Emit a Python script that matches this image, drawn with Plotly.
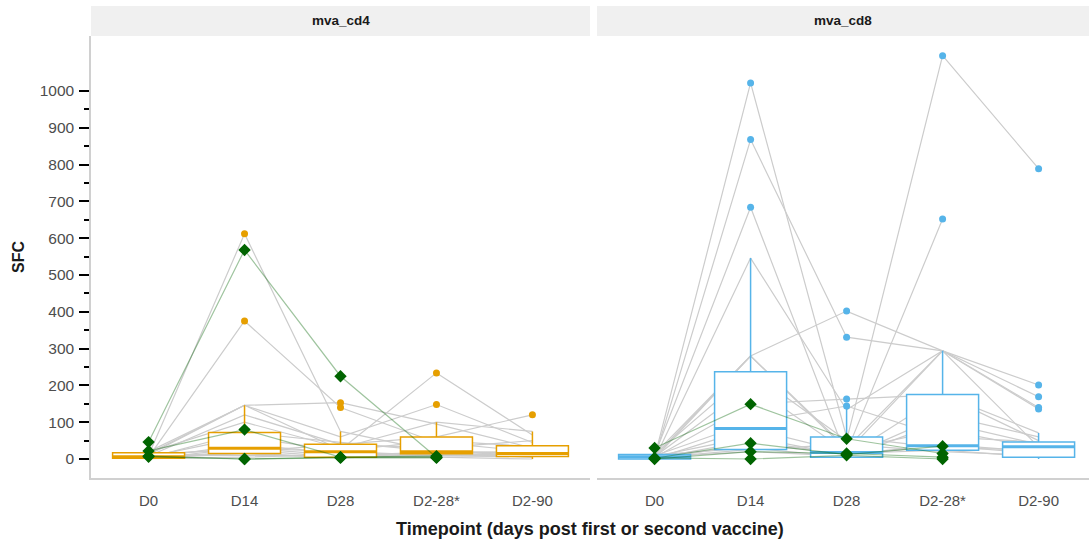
import plotly.graph_objects as go

# ---------------------------------------------------------------------------
# Data
# ---------------------------------------------------------------------------
timepoints = ["D0", "D14", "D28", "D2-28*", "D2-90"]
panel_titles = ["mva_cd4", "mva_cd8"]

# SFC per participant at each timepoint (None = no sample)
cd4_subjects = [
    [10, 612, 75, 20, 10],
    [5, 375, 140, 45, 20],
    [15, 146, 25, 234, 65],
    [20, 146, 60, 148, 45],
    [12, 146, 153, 95, 30],
    [8, 120, 40, 60, 120],
    [18, 100, 30, 100, 75],
    [3, 72, 45, 21, 15],
    [6, 60, 22, 50, 34],
    [2, 40, 15, 14, 10],
    [10, 30, 10, 19, 15],
    [0, 30, 20, 10, 8],
    [14, 25, 5, 15, 5],
    [4, 20, 39, 30, 50],
    [7, 15, 5, 5, 0],
    [2, 15, 3, 12, 12],
    [9, 10, 8, 18, 20],
    [1, 5, 12, 8, 6],
]
cd4_highlight = [
    [46, 568, 225, 5, None],
    [22, 80, 5, 8, None],
    [8, 0, 5, 5, None],
    [6, 0, 3, 3, None],
]

cd8_subjects = [
    [5, 1022, 60, 30, 25],
    [3, 868, 331, 294, 136],
    [10, 684, 5, 100, 40],
    [0, 546, 134, 294, 140],
    [8, 280, 30, 294, 169],
    [2, 280, 402, 294, 201],
    [12, 237, 50, 1096, 789],
    [6, 200, 20, 652, None],
    [4, 150, 163, 175, 71],
    [9, 100, 144, 60, 46],
    [1, 83, 18, 294, 33],
    [7, 60, 10, 36, 15],
    [0, 40, 15, 24, 5],
    [11, 30, 5, 120, 60],
    [3, 26, 40, 20, 10],
    [5, 20, 8, 175, 50],
    [14, 280, 25, 80, 30],
    [2, 50, 12, 40, 20],
]
cd8_highlight = [
    [30, 149, 55, 15, None],
    [2, 43, 12, 35, None],
    [0, 20, 15, 5, None],
    [3, 0, 10, 0, None],
]

# Box summaries per timepoint
cd4_q1 = [2, 15, 5, 14, 7]
cd4_median = [6, 29, 20, 20, 15]
cd4_q3 = [17, 72, 40, 60, 36]
cd4_lower = [0, 0, 0, 0, 0]
cd4_upper = [25, 146, 75, 100, 75]

cd8_q1 = [0, 26, 5, 24, 5]
cd8_median = [6, 83, 18, 36, 33]
cd8_q3 = [12, 237, 60, 175, 46]
cd8_lower = [0, 0, 0, 0, 0]
cd8_upper = [28, 546, 138, 294, 71]

major_ticks = list(range(0, 1001, 100))
minor_ticks = list(range(50, 1000, 100))

# ---------------------------------------------------------------------------
# Styling
# ---------------------------------------------------------------------------
FONT = "Liberation Sans, Arial, sans-serif"
CD4_COLOR = "#E69F00"
CD8_COLOR = "#56B4E9"
SPAGHETTI = "#cccccc"
HL_LINE = "rgba(0,100,0,0.38)"
HL_MARK = "#006400"
AXIS_LINE = "#d0d0d0"
BOX_WIDTH = 0.75
Y_RANGE = [-51.6, 1149.5]

fig = go.Figure()


def add_panel(subjects, highlight, q1, med, q3, lo, hi, color, base, over):
    idx = list(range(len(timepoints)))
    xb, yb = base
    xo, yo = over

    # participant trajectories (bottom layer)
    for row in subjects:
        fig.add_trace(go.Scatter(
            x=idx, y=row, mode="lines", connectgaps=False,
            line=dict(color=SPAGHETTI, width=1.2),
            xaxis=xb, yaxis=yb, hoverinfo="skip", showlegend=False))

    # boxes with white fill on top of trajectories
    fig.add_trace(go.Box(
        x=idx, q1=q1, median=med, q3=q3, lowerfence=lo, upperfence=hi,
        width=BOX_WIDTH, fillcolor="white", whiskerwidth=0, boxpoints=False,
        line=dict(color=color, width=1.5),
        xaxis=xo, yaxis=yo, hoverinfo="skip", showlegend=False))

    # thicker median bars
    mx, my = [], []
    for i, m in enumerate(med):
        mx += [i - BOX_WIDTH / 2, i + BOX_WIDTH / 2, None]
        my += [m, m, None]
    fig.add_trace(go.Scatter(
        x=mx, y=my, mode="lines", line=dict(color=color, width=3),
        xaxis=xo, yaxis=yo, hoverinfo="skip", showlegend=False))

    # outliers beyond the upper whisker
    ox, oy = [], []
    for row in subjects + highlight:
        for i, v in enumerate(row):
            if v is not None and v > hi[i]:
                ox.append(i)
                oy.append(v)
    fig.add_trace(go.Scatter(
        x=ox, y=oy, mode="markers",
        marker=dict(color=color, size=7, line=dict(width=0)),
        xaxis=xo, yaxis=yo, hoverinfo="skip", showlegend=False))

    # highlighted participants
    for row in highlight:
        fig.add_trace(go.Scatter(
            x=idx, y=row, mode="lines", connectgaps=False,
            line=dict(color=HL_LINE, width=1.2),
            xaxis=xo, yaxis=yo, hoverinfo="skip", showlegend=False))
    hx, hy = [], []
    for row in highlight:
        for i, v in enumerate(row):
            if v is not None:
                hx.append(i)
                hy.append(v)
    fig.add_trace(go.Scatter(
        x=hx, y=hy, mode="markers",
        marker=dict(symbol="diamond", color=HL_MARK, size=9.5, line=dict(width=0)),
        xaxis=xo, yaxis=yo, hoverinfo="skip", showlegend=False))


add_panel(cd4_subjects, cd4_highlight, cd4_q1, cd4_median, cd4_q3,
          cd4_lower, cd4_upper, CD4_COLOR, ("x", "y"), ("x3", "y3"))
add_panel(cd8_subjects, cd8_highlight, cd8_q1, cd8_median, cd8_q3,
          cd8_lower, cd8_upper, CD8_COLOR, ("x2", "y2"), ("x4", "y4"))

# ---------------------------------------------------------------------------
# Layout
# ---------------------------------------------------------------------------
PLOT_H = 543 - 36 - 65
STRIP_H = 30 / PLOT_H
LEFT_DOM = [0.0, 0.5]
RIGHT_DOM = [0.507, 1.0]
LEFT_RANGE = [-0.6, 4.6]
RIGHT_RANGE = [-0.6, 4.525]

xcommon = dict(
    tickvals=list(range(len(timepoints))), ticktext=timepoints,
    showline=True, linecolor=AXIS_LINE, linewidth=1.5, mirror=False,
    showgrid=False, zeroline=False, ticks="",
    tickfont=dict(family=FONT, size=15, color="#4d4d4d"),
    ticklabelstandoff=8,
)
hidden = dict(visible=False, showgrid=False, zeroline=False)

fig.update_layout(
    width=1089, height=543,
    margin=dict(l=91, r=0, t=36, b=65),
    paper_bgcolor="white", plot_bgcolor="white",
    font=dict(family=FONT),
    showlegend=False,
    xaxis=dict(domain=LEFT_DOM, range=LEFT_RANGE, anchor="y", **xcommon),
    xaxis2=dict(domain=RIGHT_DOM, range=RIGHT_RANGE, anchor="y2", **xcommon),
    xaxis3=dict(overlaying="x", range=LEFT_RANGE, anchor="y3", **hidden),
    xaxis4=dict(overlaying="x2", range=RIGHT_RANGE, anchor="y4", **hidden),
    yaxis=dict(
        domain=[0, 1], range=Y_RANGE, anchor="x",
        tickvals=major_ticks, ticks="outside", ticklen=10, tickwidth=2,
        tickcolor="black",
        minor=dict(tickvals=minor_ticks, ticks="outside", ticklen=5,
                   tickwidth=2, tickcolor="black"),
        showline=True, linecolor=AXIS_LINE, linewidth=1.5,
        showgrid=False, zeroline=False,
        tickfont=dict(family=FONT, size=15.5, color="#4d4d4d"),
        ticklabelstandoff=2,
    ),
    yaxis2=dict(domain=[0, 1], range=Y_RANGE, anchor="x2", matches="y",
                showline=False, showticklabels=False, ticks="",
                showgrid=False, zeroline=False),
    yaxis3=dict(overlaying="y", range=Y_RANGE, anchor="x3", **hidden),
    yaxis4=dict(overlaying="y2", range=Y_RANGE, anchor="x4", **hidden),
)

# facet strips
for dom, title in zip([LEFT_DOM, RIGHT_DOM], panel_titles):
    fig.add_shape(type="rect", xref="paper", yref="paper",
                  x0=dom[0], x1=dom[1], y0=1, y1=1 + STRIP_H,
                  fillcolor="#f0f0f0", line=dict(width=0), layer="below")
    fig.add_annotation(xref="paper", yref="paper",
                       x=(dom[0] + dom[1]) / 2, y=1 + STRIP_H / 2,
                       text=f"<b>{title}</b>", showarrow=False,
                       xanchor="center", yanchor="middle",
                       font=dict(family=FONT, size=13.5, color="#1a1a1a"))

# axis titles
fig.add_annotation(xref="paper", yref="paper", x=(18 - 91) / 998, y=0.5,
                   text="<b>SFC</b>", textangle=-90, showarrow=False,
                   xanchor="center", yanchor="middle",
                   font=dict(family=FONT, size=16, color="#1a1a1a"))
fig.add_annotation(xref="paper", yref="paper", x=0.5, y=(478 - 529) / PLOT_H,
                   text="<b>Timepoint (days post first or second vaccine)</b>",
                   showarrow=False, xanchor="center", yanchor="middle",
                   font=dict(family=FONT, size=18, color="#1a1a1a"))

fig.write_html("out.html")
